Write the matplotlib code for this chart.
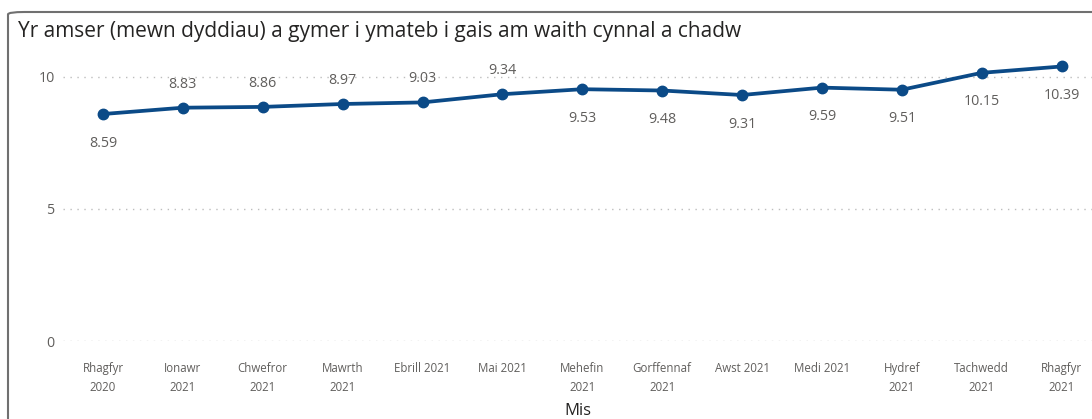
import matplotlib.pyplot as plt
from matplotlib.patches import FancyBboxPatch

# months and values
months = ['Rhagfyr\n2020', 'Ionawr\n2021', 'Chwefror\n2021', 'Mawrth\n2021', 'Ebrill 2021',
          'Mai 2021', 'Mehefin\n2021', 'Gorffennaf\n2021', 'Awst 2021', 'Medi 2021',
          'Hydref\n2021', 'Tachwedd\n2021', 'Rhagfyr\n2021']
days = [8.59, 8.83, 8.86, 8.97, 9.03, 9.34, 9.53, 9.48, 9.31, 9.59, 9.51, 10.15, 10.39]
label_above = [False, True, True, True, True, True, False, False, False, False, False, False, False]

plt.rcParams['font.family'] = ['Open Sans', 'DejaVu Sans']

fig = plt.figure(figsize=(10.92, 4.19), dpi=100)
ax = fig.add_axes([63 / 1092, 78 / 419, 1029 / 1092, 288 / 419])

line_col = '#0B4A87'
x = list(range(len(days)))
ax.plot(x, days, color=line_col, linewidth=2.7, marker='o', markersize=7.5, zorder=3)

for xi, v, up in zip(x, days, label_above):
    if up:
        ax.annotate(f'{v:.2f}', (xi, v), xytext=(0, 17), textcoords='offset points',
                    ha='center', va='center', fontsize=10.3, color='#605E5C')
    else:
        ax.annotate(f'{v:.2f}', (xi, v), xytext=(0, -21), textcoords='offset points',
                    ha='center', va='center', fontsize=10.3, color='#605E5C')

ax.set_xlim(-0.5, 12.38)
ax.set_ylim(0, 10.9)
ax.set_yticks([0, 5, 10])
ax.set_xticks(x)
ax.set_xticklabels(months, fontsize=8.3, color='#605E5C', linespacing=1.65)
ax.tick_params(axis='y', labelsize=10.3, labelcolor='#605E5C', length=0, pad=6)
ax.tick_params(axis='x', length=0, pad=15)
ax.grid(axis='y', linestyle=(0, (1, 4)), color='#BDBDBD', linewidth=1)
for s in ax.spines.values():
    s.set_visible(False)
ax.set_xlabel('Mis', fontsize=12, color='#252423', labelpad=6)

fig.text(18 / 1092, 1 - 31 / 419, 'Yr amser (mewn dyddiau) a gymer i ymateb i gais am waith cynnal a chadw',
         fontsize=15, color='#252423', ha='left', va='center')

border = FancyBboxPatch((8 / 1092, -0.1), 1.2, 1 - 12 / 419 + 0.1,
                        boxstyle='round,pad=0,rounding_size=0.015',
                        transform=fig.transFigure, fill=False, edgecolor='#707070',
                        linewidth=1.5, mutation_aspect=419 / 1092)
fig.patches.append(border)

fig.savefig('out.png', dpi=100)
